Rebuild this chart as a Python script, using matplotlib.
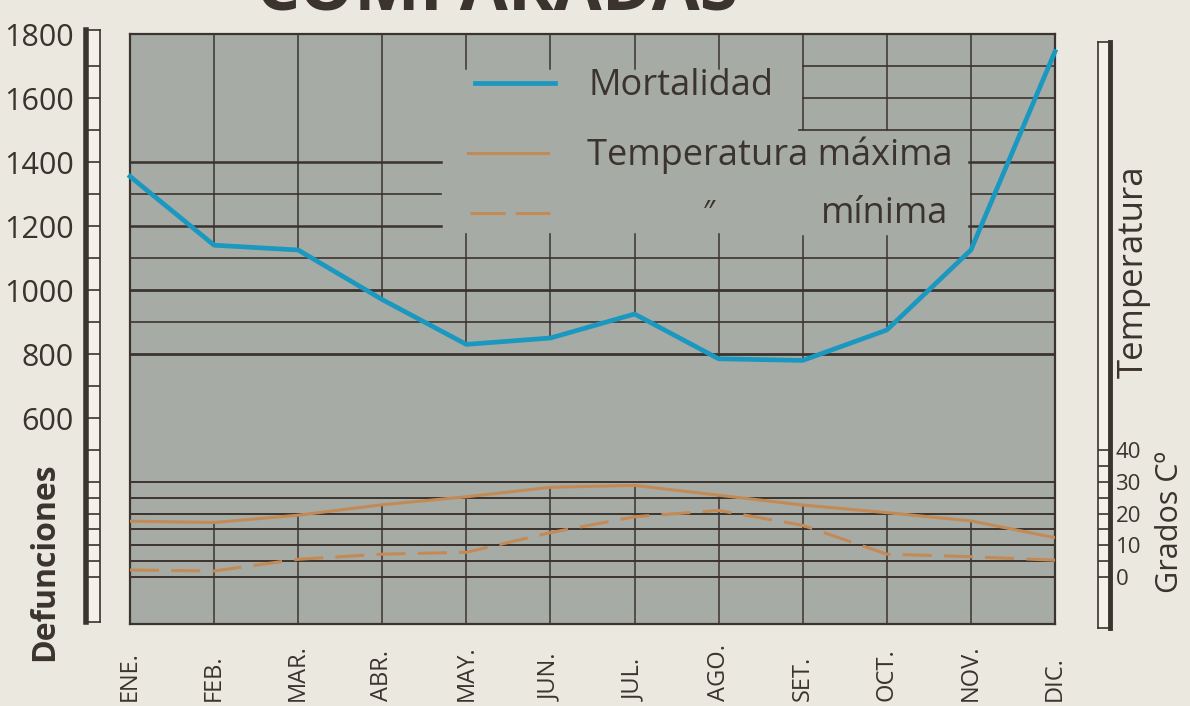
import matplotlib.pyplot as plt
from matplotlib import transforms

# ------------------------------------------------------------
# datos
# ------------------------------------------------------------
meses = ["ENE.", "FEB.", "MAR.", "ABR.", "MAY.", "JUN.",
         "JUL.", "AGO.", "SET.", "OCT.", "NOV.", "DIC."]
mortalidad = [1355, 1140, 1125, 970, 830, 850, 925, 785, 780, 875, 1125, 1745]
temp_max = [17.6, 17.2, 19.5, 22.8, 25.3, 28.3, 28.9, 25.8, 22.7, 20.3, 17.7, 12.4]
temp_min = [2.2, 1.9, 5.6, 7.2, 7.8, 14.0, 19.0, 21.0, 16.3, 7.2, 6.4, 5.3]

def_ticks = [1800, 1600, 1400, 1200, 1000, 800, 600]
temp_ticks = [40, 30, 20, 10, 0]
temp_grid = [0, 5, 10, 15, 20, 25, 30]

# ------------------------------------------------------------
# estilo
# ------------------------------------------------------------
PAPEL = "#ebe8df"
GRIS = "#a7aba6"
TINTA = "#3b332e"
AZUL = "#1a98c0"
OCRE = "#c38a55"

plt.rcParams['font.family'] = ['Open Sans', 'DejaVu Sans']

W, H = 1190, 706
fig = plt.figure(figsize=(W / 100, H / 100), dpi=100, facecolor=PAPEL)


def caja(x0, y0, x1, y1):
    # pixeles (origen arriba-izquierda) -> fraccion de figura
    return [x0 / W, 1 - y1 / H, (x1 - x0) / W, (y1 - y0) / H]


# escalas: 1800 defunciones en y=34 px, 100 defunciones = 32 px
# 0 grados en y=577 px, 1 grado = 3.17 px
def d_lim(top, bot):
    return (1800 - (bot - 34) / 0.32, 1800 - (top - 34) / 0.32)


def t_lim(top, bot):
    return (-(bot - 577) / 3.17, (577 - top) / 3.17)


# ------------------------------------------------------------
# panel principal
# ------------------------------------------------------------
ax = fig.add_axes(caja(130, 34, 1055, 624))
ax.set_facecolor(GRIS)
ax.set_xlim(0, 11)
ax.set_ylim(*d_lim(34, 624))
ax.set_xticks([])
ax.set_yticks([])
for s in ax.spines.values():
    s.set_color(TINTA)
    s.set_linewidth(1.6)

tax = ax.twinx()
t_abajo, t_arriba = t_lim(34, 624)
tax.set_ylim(t_abajo, t_arriba)
tax.set_yticks([])
for s in tax.spines.values():
    s.set_visible(False)

# lineas horizontales de defunciones: (valor, x0, x1, grosor)
h_lineas = [
    (1700, 8, 11, 1.2), (1600, 8, 11, 1.2), (1500, 7.95, 11, 1.2),
    (1400, 0, 3.7, 1.8), (1300, 0, 3.7, 1.2), (1200, 0, 3.7, 1.8),
    (1400, 9.98, 11, 1.8), (1300, 10, 11, 1.2), (1200, 9.98, 11, 1.8),
    (1100, 0, 11, 1.2), (1000, 0, 11, 2.0), (900, 0, 11, 1.2), (800, 0, 11, 2.0),
]
for v, x0, x1, lw in h_lineas:
    ax.plot([x0, x1], [v, v], color=TINTA, lw=lw, zorder=1)

# lineas verticales superiores (del borde hasta la mortalidad)
huecos = {4: (1175, 1690), 5: (1175, 1690), 6: (1175, 1690), 7: (1175, 1690),
          8: (1170, 1500), 9: (1170, 1500)}
for i in range(1, 11):
    if i in huecos:
        a, b = huecos[i]
        ax.plot([i, i], [mortalidad[i], a], color=TINTA, lw=1.1, zorder=1)
        ax.plot([i, i], [b, 1800], color=TINTA, lw=1.1, zorder=1)
    else:
        ax.plot([i, i], [mortalidad[i], 1800], color=TINTA, lw=1.1, zorder=1)

# lineas de temperatura (desde el borde inferior hasta la maxima)
for t in temp_grid:
    tax.plot([0, 11], [t, t], color=TINTA, lw=1.4, zorder=1)
for i in range(1, 11):
    tax.plot([i, i], [t_abajo, temp_max[i]], color=TINTA, lw=1.1, zorder=1)

# series
ax.plot(range(12), mortalidad, color=AZUL, lw=3.4, zorder=3,
        solid_joinstyle='round', clip_on=False)
tax.plot(range(12), temp_max, color=OCRE, lw=2.2, zorder=3)
tax.plot(range(12), temp_min, color=OCRE, lw=2.2, zorder=3,
         linestyle=(0, (9.5, 4)))

# leyenda
ax.plot([4.10, 5.05], [1647, 1647], color=AZUL, lw=3.4)
ax.text(5.45, 1636, "Mortalidad", fontsize=26, color=TINTA, va='center')
ax.plot([4.02, 4.97], [1428, 1428], color=OCRE, lw=2.2)
ax.text(5.43, 1422, "Temperatura máxima", fontsize=26, color=TINTA, va='center')
ax.plot([4.04, 5.0], [1241, 1241], color=OCRE, lw=2.2, linestyle=(0, (11.5, 3.3)))
ax.text(6.87, 1236, "\u2033", fontsize=22, color=TINTA, va='center', ha='center',
        style='italic')
ax.text(8.22, 1236, "mínima", fontsize=26, color=TINTA, va='center')

# meses
trans = transforms.blended_transform_factory(ax.transData, fig.transFigure)
for i, m in enumerate(meses):
    ax.text(i, 1 - 701 / H, m, transform=trans, rotation=90, ha='center',
            va='bottom', fontsize=17, color=TINTA, clip_on=False)

# ------------------------------------------------------------
# regla izquierda (defunciones)
# ------------------------------------------------------------
lb = fig.add_axes(caja(86, 30, 100, 622))
lb.set_facecolor("#f3f1ea")
lb.set_xlim(0, 1)
lb.set_ylim(*d_lim(30, 622))
lb.set_xticks([])
lb.set_yticks(def_ticks)
lb.set_yticklabels([str(v) for v in def_ticks])
lb.tick_params(axis='y', length=0, pad=9, labelsize=22, labelcolor=TINTA)
for s in lb.spines.values():
    s.set_color(TINTA)
    s.set_linewidth(1.2)
lb.spines['left'].set_linewidth(4)
for v in range(500, 1800, 100):
    lb.axhline(v, color=TINTA, lw=1.2)
tr_lb = transforms.blended_transform_factory(lb.transAxes, tax.transData)
for t in temp_grid:
    lb.plot([0, 1], [t, t], transform=tr_lb, color=TINTA, lw=1.2)

fig.text(45 / W, 1 - 562 / H, "Defunciones", rotation=90, ha='center',
         va='center', fontsize=23, fontweight='bold', color=TINTA)

# ------------------------------------------------------------
# regla derecha (temperatura)
# ------------------------------------------------------------
rb = fig.add_axes(caja(1098, 42, 1110, 628))
rb.set_facecolor("#f3f1ea")
rb.set_xlim(0, 1)
rb.set_ylim(*t_lim(42, 628))
rb.set_xticks([])
rb.yaxis.tick_right()
rb.set_yticks(temp_ticks)
rb.set_yticklabels([str(v) for v in temp_ticks])
rb.tick_params(axis='y', length=0, pad=4, labelsize=16, labelcolor=TINTA)
for s in rb.spines.values():
    s.set_color(TINTA)
    s.set_linewidth(1.2)
rb.spines['right'].set_linewidth(3.5)
for t in range(0, 45, 5):
    rb.axhline(t, color=TINTA, lw=1.2)

fig.text(1134 / W, 1 - 272 / H, "Temperatura", rotation=90, ha='center',
         va='center', fontsize=25, color=TINTA)
fig.text(1170 / W, 1 - 522 / H, "Grados Cº", rotation=90, ha='center',
         va='center', fontsize=22, color=TINTA)

# titulo (cortado en el borde superior, como en el original)
fig.text(497 / W, 1 - 10 / H, "COMPARADAS", ha='center', va='baseline',
         fontsize=50, fontweight='bold', color=TINTA)

fig.savefig("out.png", dpi=100, facecolor=PAPEL)
